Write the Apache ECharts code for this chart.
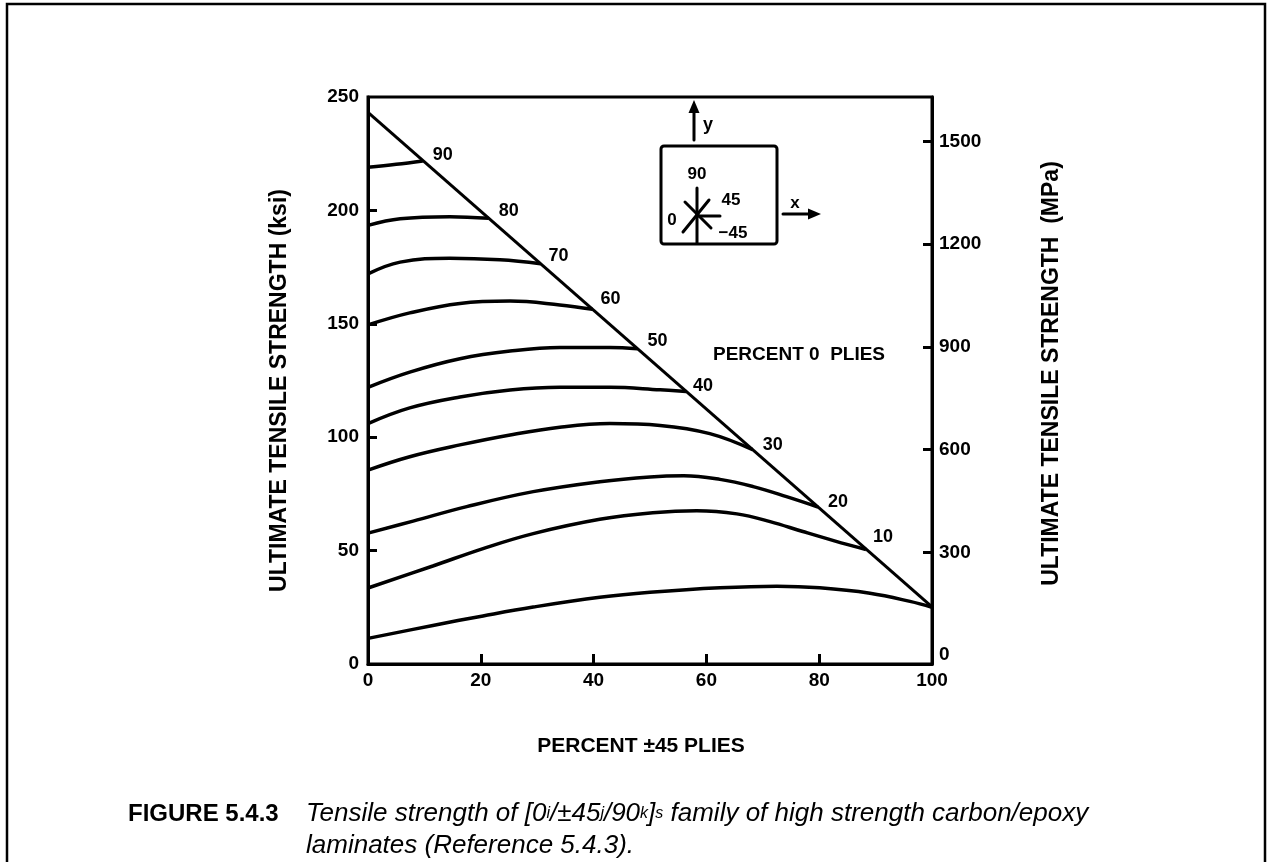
<!DOCTYPE html>
<html><head><meta charset="utf-8">
<script src="https://cdn.jsdelivr.net/npm/echarts@6/dist/echarts.min.js"></script>
<style>html,body{margin:0;padding:0;background:#fff}#c{width:1267px;height:862px}</style>
</head><body><div id="c"></div>
<script>
// ---- data ----
const xTicks = [0, 20, 40, 60, 80, 100];
const ksiTicks = [0, 50, 100, 150, 200, 250];
const mpaTicks = [0, 300, 600, 900, 1200, 1500];
const plyLabels = ['90', '80', '70', '60', '50', '40', '30', '20', '10', ''];
const c90 = [[0,219],[5,220.3],[9.7,221.8]];
const c80 = [[0,193.4],[5.7,196.3],[14.5,197.2],[21.4,196.5]];
const c70 = [[0,172],[5.7,177.2],[14.5,178.9],[23.4,178.2],[30.6,176.5]];
const c60 = [[0,149.5],[7.4,154.8],[16.3,159],[25.2,160],[34,158.3],[39.8,156.4]];
const c50 = [[0,122],[7.4,128.7],[16.3,134.6],[25.2,138],[34,139.6],[42.9,139.6],[47.8,139]];
const c40 = [[0,106],[7.4,112.9],[16.3,117.7],[25.2,120.8],[34,122],[42.9,122],[51.8,120.9],[56.4,120.2]];
const c30 = [[0,85.5],[7.4,91.4],[16.3,96.6],[25.2,101],[34,104.4],[42.9,106],[51.8,105.2],[60.6,101.6],[68.2,94.5]];
const c20 = [[0,57.7],[8,63],[17.5,69.4],[29.3,76],[41.1,80.4],[50,82.5],[56,83],[62.4,81.4],[68.3,78.2],[74.2,73.8],[79.8,69.2]];
const c10 = [[0,33.5],[11.5,43.2],[20.4,50.9],[29.3,57.5],[41.1,63.8],[50.5,66.7],[58.3,67.6],[65.4,66.2],[71.3,62.8],[77.1,58.4],[82.7,54.3],[88.3,50.5]];
const c0 = [[0,11.3],[11.5,17],[20.4,21.2],[29.3,25.1],[41.1,29.4],[50,31.6],[62.4,33.6],[72.5,34.3],[80.1,33.6],[89,31.2],[96.1,27.6],[100,25]];
const diagonal = [[0,243.2],[100,25.2]];
const curves = [c90, c80, c70, c60, c50, c40, c30, c20, c10, c0];

// ---- styling ----
const FONT = '"Liberation Sans", Arial, Helvetica, sans-serif';
const INK = '#000';
const labelOffsets = [[5,-6],[5,-7],[3,-8],[3,-10],[5,-8],[2,-5],[5,-5],[5,-5],[2,-12],[0,0]];

const chart = echarts.init(document.getElementById('c'), null, {renderer: 'canvas'});

const series = curves.map((d, i) => ({
  type: 'line', data: d, smooth: 0.4, symbol: 'none',
  lineStyle: {color: INK, width: 3.5}, z: 3,
  endLabel: {show: plyLabels[i] !== '', formatter: plyLabels[i], color: INK,
    fontFamily: FONT, fontWeight: 'bold', fontSize: 18, offset: labelOffsets[i], distance: 5}
}));
series.push({type: 'line', data: diagonal, symbol: 'none', lineStyle: {color: INK, width: 3}, z: 3});

const t = (text, x, y, size, extra) => Object.assign({type: 'text', x, y,
  style: Object.assign({text, fill: INK, font: 'bold ' + size + 'px ' + FONT, align: 'center', verticalAlign: 'middle'}, extra || {})});
const ln = (x1, y1, x2, y2, w) => ({type: 'line', shape: {x1, y1, x2, y2}, style: {stroke: INK, lineWidth: w || 3, lineCap: 'round'}});
const plain = v => String(v);

chart.setOption({
  animation: false,
  backgroundColor: '#fff',
  grid: {left: 368, right: 335, top: 97, bottom: 198, show: true, borderColor: INK, borderWidth: 3},
  xAxis: {
    type: 'value', min: 0, max: 100, interval: 20,
    name: 'PERCENT ±45 PLIES', nameLocation: 'middle', nameGap: 72,
    nameTextStyle: {color: INK, fontFamily: FONT, fontWeight: 'bold', fontSize: 21, padding: [0, 18, 0, 0]},
    axisLine: {lineStyle: {color: INK, width: 3}},
    axisTick: {inside: true, length: 10, lineStyle: {color: INK, width: 3}, customValues: xTicks.slice(1, -1)},
    axisLabel: {color: INK, fontFamily: FONT, fontWeight: 'bold', fontSize: 19, margin: 7, customValues: xTicks, formatter: plain},
    splitLine: {show: false}
  },
  yAxis: [{
    type: 'value', min: 0, max: 250, interval: 50,
    name: 'ULTIMATE TENSILE STRENGTH (ksi)', nameLocation: 'middle', nameGap: 77, nameRotate: 90,
    nameTextStyle: {color: INK, fontFamily: FONT, fontWeight: 'bold', fontSize: 23, padding: [0, 20, 0, 0]},
    axisLine: {lineStyle: {color: INK, width: 3}},
    axisTick: {inside: true, length: 9, lineStyle: {color: INK, width: 3}, customValues: ksiTicks.slice(1, -1)},
    axisLabel: {color: INK, fontFamily: FONT, fontWeight: 'bold', fontSize: 19, margin: 9, customValues: ksiTicks, formatter: plain},
    splitLine: {show: false}
  }, {
    type: 'value', min: -26, max: 1630, position: 'right',
    name: 'ULTIMATE TENSILE STRENGTH  (MPa)', nameLocation: 'middle', nameGap: 108, nameRotate: 90,
    nameTextStyle: {color: INK, fontFamily: FONT, fontWeight: 'bold', fontSize: 23, padding: [0, 0, 0, 14]},
    axisLine: {show: true, lineStyle: {color: INK, width: 3}},
    axisTick: {inside: true, length: 9, lineStyle: {color: INK, width: 3}, customValues: mpaTicks.slice(1)},
    axisLabel: {color: INK, fontFamily: FONT, fontWeight: 'bold', fontSize: 19, margin: 7, customValues: mpaTicks, formatter: plain},
    splitLine: {show: false}
  }],
  series: series,
  graphic: [
    // outer frame
    {type: 'rect', shape: {x: 7, y: 4, width: 1258, height: 900}, style: {fill: 'none', stroke: INK, lineWidth: 2.5}, silent: true},
    // inset coordinate sketch
    {type: 'rect', shape: {x: 661, y: 146, width: 116, height: 98, r: 3}, style: {fill: 'none', stroke: INK, lineWidth: 3}},
    ln(694, 140, 694, 110),
    {type: 'polygon', shape: {points: [[694, 100], [688.5, 113], [699.5, 113]]}, style: {fill: INK}},
    t('y', 708, 125, 18),
    ln(783, 214, 810, 214),
    {type: 'polygon', shape: {points: [[821, 214], [808, 208.5], [808, 219.5]]}, style: {fill: INK}},
    t('x', 795, 203, 17),
    ln(697, 188, 697, 243),
    ln(697, 216, 720, 216),
    ln(683, 232, 709, 200),
    ln(685, 202, 711, 228),
    t('90', 697, 174, 17),
    t('0', 672, 220, 17),
    t('45', 731, 200, 17),
    t('−45', 733, 233, 17),
    t('PERCENT 0  PLIES', 799, 355, 19),
    // caption
    t('FIGURE 5.4.3', 128, 814, 24, {align: 'left'}),
    {type: 'text', x: 306, y: 814, style: {
      text: '{n|Tensile strength of [0}{s|i}{n|/±45}{s|j}{n|/90}{s|k}{n|]}{s|s}{n| family of high strength carbon/epoxy}',
      fill: INK, align: 'left', verticalAlign: 'middle',
      rich: {n: {font: 'italic 26px ' + FONT, fill: INK, height: 30, verticalAlign: 'middle'},
             s: {font: 'italic 16px ' + FONT, fill: INK, height: 30, verticalAlign: 'bottom'}}
    }},
    {type: 'text', x: 306, y: 846, style: {text: 'laminates (Reference 5.4.3).', fill: INK, font: 'italic 26px ' + FONT, align: 'left', verticalAlign: 'middle'}}
  ]
});
</script></body></html>
